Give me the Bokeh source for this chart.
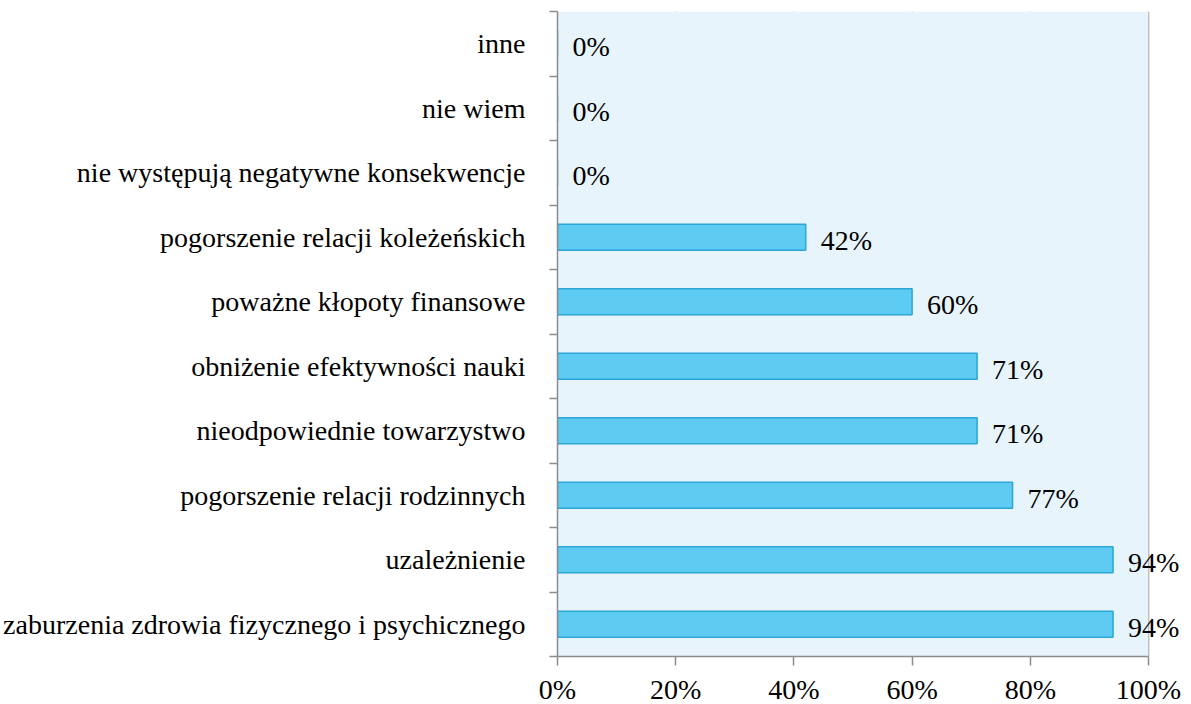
from bokeh.plotting import figure
from bokeh.models import ColumnDataSource, Range1d, FixedTicker, LabelSet, BoxAnnotation
from bokeh.embed import file_html
from bokeh.resources import INLINE

categories = [
    "zaburzenia zdrowia fizycznego i psychicznego",
    "uzależnienie",
    "pogorszenie relacji rodzinnych",
    "nieodpowiednie towarzystwo",
    "obniżenie efektywności nauki",
    "poważne kłopoty finansowe",
    "pogorszenie relacji koleżeńskich",
    "nie występują negatywne konsekwencje",
    "nie wiem",
    "inne",
]
values = [94, 94, 77, 71, 71, 60, 42, 0, 0, 0]
x_ticks = [0, 20, 40, 60, 80, 100]

FONT = "Liberation Serif"
FS = "28px"
n = len(categories)
centers = [i + 0.5 for i in range(n)]

src = ColumnDataSource(dict(
    y=centers,
    v=values,
    lab=[f"{v}%" for v in values],
))

FW = 632
x_end = 100 * FW / 591.0

p = figure(
    frame_width=FW, frame_height=645,
    x_range=Range1d(0, x_end), y_range=Range1d(0, n),
    output_backend="svg", toolbar_location=None,
    min_border_left=555, min_border_top=11, min_border_right=0, min_border_bottom=0,
)
p.background_fill_color = "white"
p.border_fill_color = "white"
p.outline_line_color = None

p.add_layout(BoxAnnotation(left=0, right=100, fill_color="#E8F4FC", fill_alpha=1.0,
                           line_color=None, level="underlay"))

p.hbar(y="y", right="v", left=0, height=0.4, source=src,
       fill_color="#5DCBF2", line_color="#2BA6D6", line_width=1.5)

labels = LabelSet(x="v", y="y", text="lab", source=src, x_offset=15, y_offset=-3,
                  text_baseline="middle", text_align="left",
                  text_font=FONT, text_font_size=FS, text_color="black")
p.add_layout(labels)

# x axis
p.xaxis.ticker = FixedTicker(ticks=x_ticks)
p.xaxis.bounds = (0, 100)
p.xaxis.major_label_overrides = {t: f"{t}%" for t in x_ticks}
p.xaxis.major_label_text_font = FONT
p.xaxis.major_label_text_font_size = FS
p.xaxis.major_label_text_color = "black"
p.xaxis.major_tick_out = 9
p.xaxis.major_tick_in = 0
p.xaxis.minor_tick_out = 0
p.xaxis.minor_tick_in = 0
p.xaxis.major_label_standoff = 8
p.xaxis.axis_line_color = "#8C8C8C"
p.xaxis.major_tick_line_color = "#8C8C8C"
p.xaxis.axis_line_width = 1.5
p.xaxis.major_tick_line_width = 1.5

# y axis
p.yaxis.ticker = FixedTicker(ticks=centers, minor_ticks=list(range(n + 1)))
p.yaxis.major_label_overrides = {c: lab for c, lab in zip(centers, categories)}
p.yaxis.major_label_text_font = FONT
p.yaxis.major_label_text_font_size = FS
p.yaxis.major_label_text_color = "black"
p.yaxis.major_tick_out = 0
p.yaxis.major_tick_in = 0
p.yaxis.minor_tick_out = 8
p.yaxis.minor_tick_in = 0
p.yaxis.minor_tick_line_color = "#8C8C8C"
p.yaxis.minor_tick_line_width = 1.5
p.yaxis.major_label_standoff = 24
p.yaxis.axis_line_color = "#8C8C8C"
p.yaxis.axis_line_width = 1.5

p.xgrid.ticker = FixedTicker(ticks=x_ticks)
p.xgrid.grid_line_color = "#8C8C8C"
p.xgrid.grid_line_width = 1.5
p.ygrid.grid_line_color = None

open("out.html", "w").write(file_html(p, INLINE))
